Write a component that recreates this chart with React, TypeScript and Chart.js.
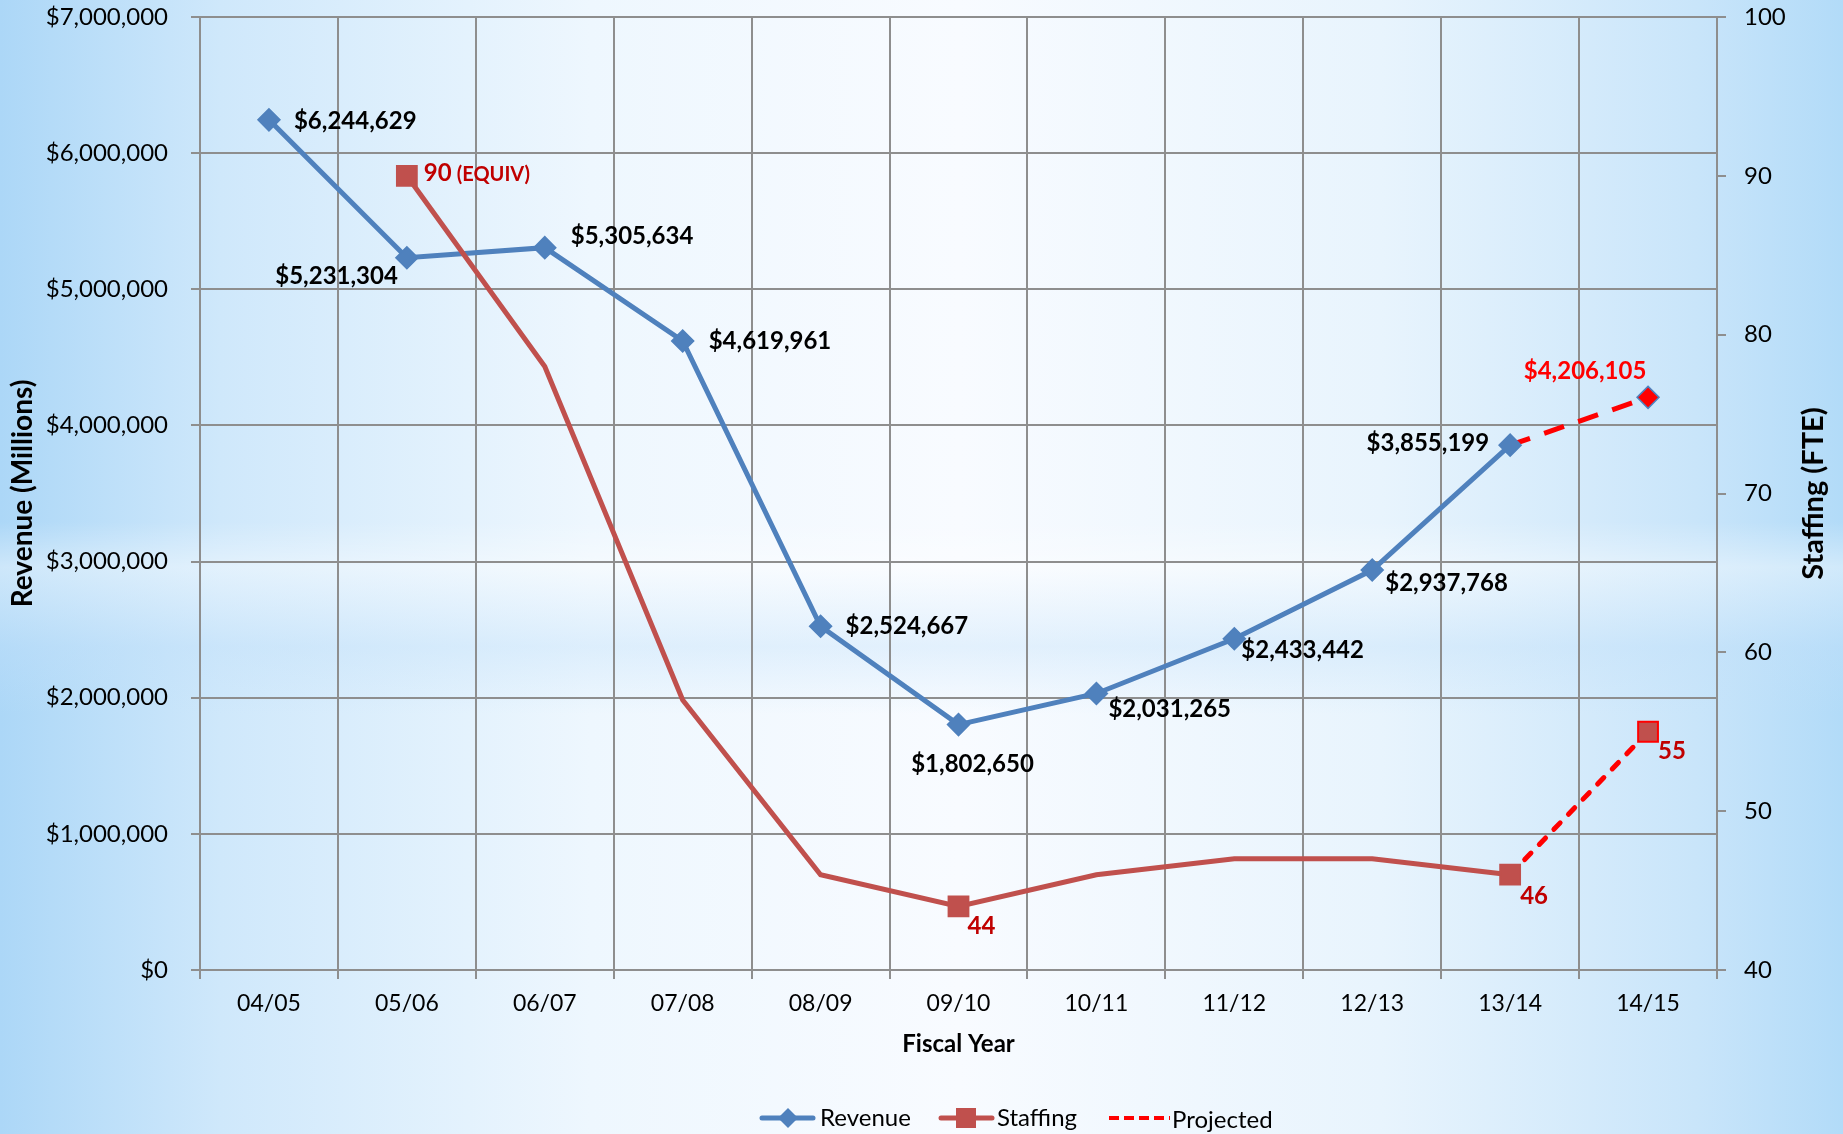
import React, { useEffect, useRef } from 'react';
import { Chart, registerables } from 'chart.js';

Chart.register(...registerables);

// ---------- data ----------
const categories = ['04/05', '05/06', '06/07', '07/08', '08/09', '09/10', '10/11', '11/12', '12/13', '13/14', '14/15'];
const revenue = [6244629, 5231304, 5305634, 4619961, 2524667, 1802650, 2031265, 2433442, 2937768, 3855199, 4206105];
const staffing = [null, 90, 78, 57, 46, 44, 46, 47, 47, 46, 55];
const staffingMarked = [false, true, false, false, false, true, false, false, false, true, true];
const staffingLabels = [null, '90', null, null, null, '44', null, null, null, '46', '55'];
const projectedFrom = 9; // segment from 13/14 to 14/15 is projected
const revenueAxis = { min: 0, max: 7000000, step: 1000000 };
const staffingAxis = { min: 40, max: 100, step: 10 };
const xTitle = 'Fiscal Year';
const yTitle = 'Revenue (Millions)';
const y1Title = 'Staffing (FTE)';
const legendNames = ['Revenue', 'Staffing', 'Projected'];

// ---------- styling ----------
const FONT = 'Lato, "DejaVu Sans", sans-serif';
const BLUE = '#4f81bd';
const RED = '#c0504d';
const PROJ = '#ff0000';
const LABEL_RED = '#c00000';
const GRID = '#8e8e8e';

// label placements relative to each point: [dx, dy, align]
const revLabelPos: [number, number, CanvasTextAlign][] = [
  [25, 1, 'left'],
  [-9, 18, 'right'],
  [26, -11, 'left'],
  [26, 0, 'left'],
  [25, 0, 'left'],
  [14, 40, 'center'],
  [12, 16, 'left'],
  [7, 12, 'left'],
  [13, 13, 'left'],
  [-21, -2, 'right'],
  [-63, -26, 'center'],
];
const staffLabelPos: [number, number][] = [
  [0, 0], [17, -3], [0, 0], [0, 0], [0, 0], [9, 20], [0, 0], [0, 0], [0, 0], [10, 22], [10, 20],
];

const fmtMoney = (v: number) => '$' + v.toLocaleString('en-US');

const labelPlugin = {
  id: 'pointLabels',
  afterDatasetsDraw(chart: any) {
    const ctx = chart.ctx as CanvasRenderingContext2D;
    const revMeta = chart.getDatasetMeta(0);
    const stMeta = chart.getDatasetMeta(1);
    ctx.save();
    ctx.textBaseline = 'middle';
    ctx.font = `bold 24px ${FONT}`;
    revMeta.data.forEach((pt: any, i: number) => {
      const [dx, dy, align] = revLabelPos[i];
      ctx.textAlign = align;
      ctx.fillStyle = i > projectedFrom ? PROJ : '#000';
      ctx.fillText(fmtMoney(revenue[i]), pt.x + dx, pt.y + dy);
    });
    stMeta.data.forEach((pt: any, i: number) => {
      const txt = staffingLabels[i];
      if (!txt) return;
      const [dx, dy] = staffLabelPos[i];
      ctx.textAlign = 'left';
      ctx.fillStyle = LABEL_RED;
      ctx.font = `bold 24px ${FONT}`;
      const x = pt.x + dx;
      ctx.fillText(txt, x, pt.y + dy);
      if (i === 1) {
        const w = ctx.measureText(txt).width;
        ctx.font = `bold 20px ${FONT}`;
        ctx.fillText('(EQUIV)', x + w + 5, pt.y + dy + 2);
      }
    });
    ctx.restore();
  },
};

const decorPlugin = {
  id: 'decor',
  afterDraw(chart: any) {
    const ctx = chart.ctx as CanvasRenderingContext2D;
    const ca = chart.chartArea;
    const midY = (ca.top + ca.bottom) / 2;
    ctx.save();
    ctx.fillStyle = '#000';
    ctx.textAlign = 'center';
    ctx.textBaseline = 'middle';
    ctx.font = `bold 24px ${FONT}`;
    ctx.fillText(xTitle, (ca.left + ca.right) / 2, 1044);
    ctx.font = `bold 28px ${FONT}`;
    ctx.save();
    ctx.translate(23, midY);
    ctx.rotate(-Math.PI / 2);
    ctx.fillText(yTitle, 0, 0);
    ctx.restore();
    ctx.save();
    ctx.translate(1814, midY);
    ctx.rotate(-Math.PI / 2);
    ctx.font = `bold 29px ${FONT}`;
    ctx.fillText(y1Title, 0, 0);
    ctx.restore();

    // legend
    const ly = 1118;
    ctx.font = `24px ${FONT}`;
    ctx.textAlign = 'left';
    ctx.lineCap = 'round';
    // Revenue
    ctx.strokeStyle = BLUE;
    ctx.lineWidth = 5;
    ctx.beginPath();
    ctx.moveTo(762, ly);
    ctx.lineTo(813, ly);
    ctx.stroke();
    ctx.fillStyle = BLUE;
    ctx.beginPath();
    ctx.moveTo(788, ly - 10);
    ctx.lineTo(798, ly);
    ctx.lineTo(788, ly + 10);
    ctx.lineTo(778, ly);
    ctx.closePath();
    ctx.fill();
    ctx.fillStyle = '#000';
    ctx.fillText(legendNames[0], 820, ly);
    // Staffing
    ctx.strokeStyle = RED;
    ctx.beginPath();
    ctx.moveTo(941, ly);
    ctx.lineTo(992, ly);
    ctx.stroke();
    ctx.fillStyle = RED;
    ctx.fillRect(956, ly - 10, 20, 20);
    ctx.fillStyle = '#000';
    ctx.fillText(legendNames[1], 997, ly);
    // Projected
    ctx.strokeStyle = PROJ;
    ctx.lineWidth = 4;
    ctx.lineCap = 'butt';
    ctx.setLineDash([10, 5]);
    ctx.beginPath();
    ctx.moveTo(1109, ly);
    ctx.lineTo(1170, ly);
    ctx.stroke();
    ctx.setLineDash([]);
    ctx.fillStyle = '#000';
    ctx.fillText(legendNames[2], 1172, ly + 2);
    ctx.restore();
  },
};

const noVPad = (s: any) => {
  s.paddingTop = 0;
  s.paddingBottom = 0;
};

export default function App() {
  const ref = useRef<HTMLCanvasElement | null>(null);

  useEffect(() => {
    if (!ref.current) return;
    const isProj = (ctx: any) => ctx.p0DataIndex >= projectedFrom;
    const chart = new Chart(ref.current, {
      type: 'line',
      data: {
        labels: categories,
        datasets: [
          {
            label: legendNames[0],
            data: revenue,
            yAxisID: 'y',
            order: 1,
            borderColor: BLUE,
            borderWidth: 5,
            pointStyle: 'rectRot',
            pointRadius: 11,
            pointBackgroundColor: revenue.map((_, i) => (i > projectedFrom ? PROJ : BLUE)),
            pointBorderColor: BLUE,
            pointBorderWidth: 1.5,
            tension: 0,
            segment: {
              borderColor: (c: any) => (isProj(c) ? PROJ : undefined),
              borderDash: (c: any) => (isProj(c) ? [21, 15] : undefined),
            },
          },
          {
            label: legendNames[1],
            data: staffing,
            yAxisID: 'y1',
            order: 0,
            borderColor: RED,
            borderWidth: 5,
            borderCapStyle: 'round',
            pointStyle: 'rect',
            pointRadius: staffingMarked.map((m) => (m ? 14 : 0)),
            pointBackgroundColor: RED,
            pointBorderColor: staffing.map((_, i) => (i > projectedFrom ? PROJ : RED)),
            pointBorderWidth: 2,
            tension: 0,
            spanGaps: false,
            segment: {
              borderColor: (c: any) => (isProj(c) ? PROJ : undefined),
              borderDash: (c: any) => (isProj(c) ? [9, 12] : undefined),
            },
          },
        ],
      },
      options: {
        animation: false,
        responsive: true,
        maintainAspectRatio: false,
        events: [],
        layout: { padding: { top: 17, left: 0, right: 0, bottom: 0 } },
        plugins: { legend: { display: false }, tooltip: { enabled: false } },
        scales: {
          x: {
            offset: true,
            grid: { offset: true, color: GRID, lineWidth: 2, tickLength: 9, drawTicks: true },
            border: { color: GRID, width: 2 },
            ticks: { color: '#000', font: { family: FONT, size: 23 }, padding: 11, maxRotation: 0 },
            afterFit: (s: any) => {
              s.height = 164;
            },
          },
          y: {
            position: 'left',
            min: revenueAxis.min,
            max: revenueAxis.max,
            grid: { color: GRID, lineWidth: 2, tickLength: 9 },
            border: { color: GRID, width: 2 },
            ticks: {
              stepSize: revenueAxis.step,
              color: '#000',
              font: { family: FONT, size: 24 },
              padding: 23,
              callback: (v: any) => fmtMoney(Number(v)),
            },
            afterFit: (s: any) => {
              s.width = 200;
              noVPad(s);
            },
          },
          y1: {
            position: 'right',
            min: staffingAxis.min,
            max: staffingAxis.max,
            grid: { drawOnChartArea: false, color: GRID, lineWidth: 2, tickLength: 9 },
            border: { color: GRID, width: 2 },
            ticks: {
              stepSize: staffingAxis.step,
              color: '#000',
              font: { family: FONT, size: 24 },
              padding: 18,
            },
            afterFit: (s: any) => {
              s.width = 126;
              noVPad(s);
            },
          },
        },
      },
      plugins: [labelPlugin, decorPlugin],
    });
    return () => chart.destroy();
  }, []);

  return (
    <div
      style={{
        position: 'fixed',
        left: 0,
        top: 0,
        width: 1843,
        height: 1134,
        background:
          'linear-gradient(180deg, rgba(255,255,255,0) 46%, rgba(255,255,255,0.4) 50%, rgba(195,225,250,0.4) 57%, rgba(255,255,255,0) 63%),' +
          'linear-gradient(90deg, #acd7f7 0%, #cfe8fb 12%, #eef7fe 32%, #f8fbff 52%, #e8f4fd 75%, #c9e5fa 92%, #b2dbf8 100%)',
      }}
    >
      <canvas ref={ref} />
    </div>
  );
}
